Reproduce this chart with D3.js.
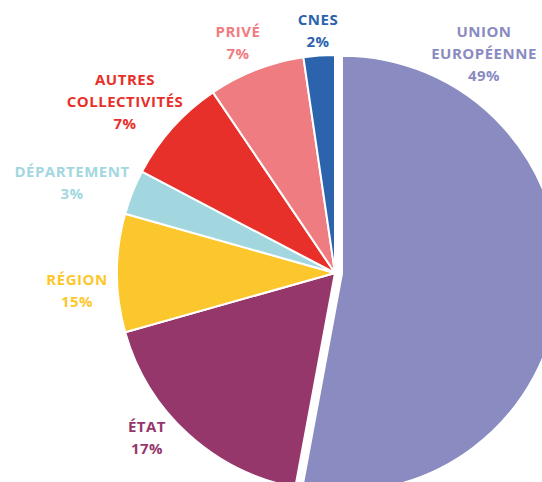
<!DOCTYPE html>
<html>
<head>
<meta charset="utf-8">
<script src="https://cdn.jsdelivr.net/npm/d3@7"></script>
<style>
  html, body { margin: 0; padding: 0; background: #fff; }
  svg { display: block; }
  .lbl { font-family: "Open Sans", sans-serif; font-weight: 700; font-size: 15px; letter-spacing: 0.5px; }
</style>
</head>
<body>
<svg width="542" height="482"></svg>
<script>
// slices, clockwise from 12 o'clock
const categories = ['UNION|EUROPÉENNE', 'ÉTAT', 'RÉGION', 'DÉPARTEMENT', 'AUTRES|COLLECTIVITÉS', 'PRIVÉ', 'CNES'];
// share of the circle as drawn in the picture
const shares = [52.6, 17.6, 8.7, 3.3, 7.8, 7.1, 2.3];
// percentages printed on the labels
const pctLabels = ['49%', '17%', '15%', '3%', '7%', '7%', '2%'];
const colors = ['#8a8bc1', '#96376c', '#fcc72c', '#a3d7e0', '#e8302a', '#ef7c81', '#2c63ad'];

// label block anchors (centre x, first baseline y)
const labelPos = [[484, 37], [147, 432], [77, 285], [72, 177], [125, 85], [238, 37], [318, 25]];

function drawPie() {
  let svg = d3.select('svg');
  let cx = 335, cy = 273, radius = 218;

  let g = svg.append('g')
             .attr('transform', 'translate(' + cx + ',' + cy + ')');

  let pie = d3.pie().sort(null).value(d => d);
  let arc = d3.arc().innerRadius(0).outerRadius(radius);

  let arcs = pie(shares);

  g.selectAll('path')
   .data(arcs)
   .enter().append('path')
   .attr('d', arc)
   .attr('fill', (d, i) => colors[i])
   .attr('stroke', '#fff')
   .attr('stroke-width', 2)
   .attr('stroke-linejoin', 'round')
   .attr('transform', (d, i) => {
     if (i !== 0) return null;
     // pull the EU slice out a bit
     let mid = (d.startAngle + d.endAngle) / 2, off = 7;
     return 'translate(' + (Math.sin(mid) * off) + ',' + (-Math.cos(mid) * off) + ')';
   });

  let labels = svg.selectAll('text.lbl')
     .data(categories)
     .enter().append('text')
     .attr('class', 'lbl')
     .attr('text-anchor', 'middle')
     .attr('fill', (d, i) => colors[i])
     .attr('x', (d, i) => labelPos[i][0])
     .attr('y', (d, i) => labelPos[i][1]);

  labels.each(function (d, i) {
    let lines = d.split('|').concat([pctLabels[i]]);
    d3.select(this).selectAll('tspan')
      .data(lines)
      .enter().append('tspan')
      .attr('x', labelPos[i][0])
      .attr('dy', (l, j) => j === 0 ? 0 : 22)
      .text(l => l);
  });
}

drawPie();
</script>
</body>
</html>
